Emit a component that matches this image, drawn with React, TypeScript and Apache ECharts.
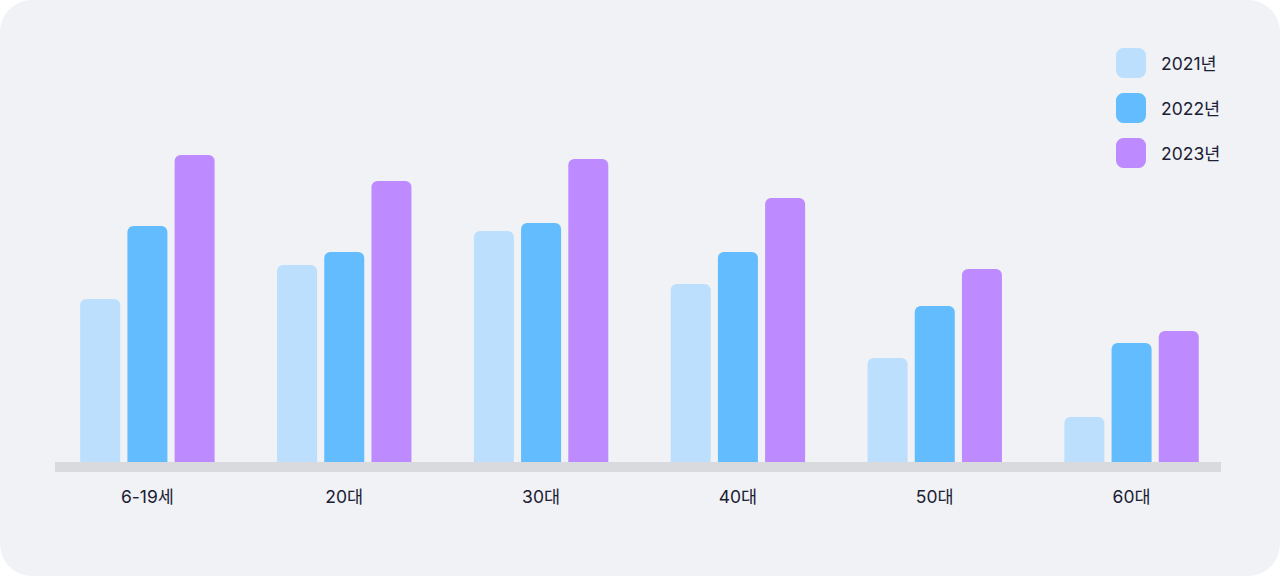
import React, { useEffect, useRef } from "react";
import * as echarts from "echarts";

const categories = ["6-19세", "20대", "30대", "40대", "50대", "60대"];
const seriesNames = ["2021년", "2022년", "2023년"];
const values2021 = [163, 197, 231, 178, 104, 45];
const values2022 = [236, 210, 239, 210, 156, 119];
const values2023 = [307, 281, 303, 264, 193, 131];
const colors = ["#bbdffc", "#62bcfe", "#bd8bff"];

const FONT = "Inter, 'Noto Sans CJK KR', sans-serif";

export default function App() {
  const ref = useRef<HTMLDivElement>(null);
  useEffect(() => {
    if (!ref.current) return;
    const chart = echarts.init(ref.current, undefined, { renderer: "svg" });
    const data = [values2021, values2022, values2023];
    chart.setOption({
      animation: false,
      backgroundColor: "transparent",
      textStyle: { fontFamily: FONT },
      grid: { left: 49, right: 50, top: 62, bottom: 114 },
      legend: {
        orient: "vertical",
        left: 1111,
        top: 43,
        itemWidth: 30,
        itemHeight: 30,
        itemGap: 15,
        icon: "roundRect",
        textStyle: { fontSize: 17.5, color: "#1b2033", fontFamily: FONT, padding: [0, 0, 0, 10] },
        data: seriesNames,
      },
      xAxis: {
        type: "category",
        data: categories,
        axisLine: { show: false },
        axisTick: { show: false },
        axisLabel: { fontSize: 17.5, color: "#1b2033", margin: 26, fontFamily: FONT },
      },
      yAxis: {
        type: "value",
        min: 0,
        max: 400,
        show: false,
        splitLine: { show: false },
      },
      graphic: [
        {
          type: "rect",
          left: 55,
          top: 462,
          shape: { width: 1166, height: 10 },
          style: { fill: "#d9dadd" },
          z: 10,
        },
      ],
      series: seriesNames.map((name, i) => ({
        name,
        type: "bar",
        data: data[i],
        barWidth: 40,
        barGap: "18%",
        itemStyle: { color: colors[i], borderRadius: [6, 6, 0, 0] },
      })),
    });
    return () => chart.dispose();
  }, []);
  return (
    <div style={{ position: "absolute", left: 0, top: 0, width: 1280, height: 576, background: "#ffffff" }}>
      <div style={{ position: "absolute", left: 0, top: 0, width: 1280, height: 576, background: "#f0f2f6", borderRadius: 32 }}>
        <div ref={ref} style={{ width: 1280, height: 576 }} />
      </div>
    </div>
  );
}
